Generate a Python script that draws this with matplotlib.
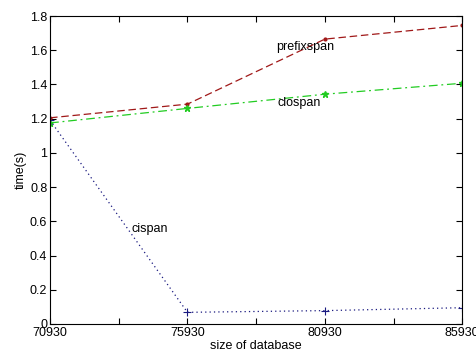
import matplotlib
matplotlib.use('Agg')
import matplotlib.pyplot as plt

# size of database
sizes = [70930, 75930, 80930, 85930]

# time(s) per algorithm
prefixspan = [1.205, 1.285, 1.665, 1.745]
clospan = [1.175, 1.26, 1.343, 1.407]
cispan = [1.19, 0.068, 0.078, 0.095]

xticks = [70930, 73430, 75930, 78430, 80930, 83430, 85930]
xticklabels = ['70930', '', '75930', '', '80930', '', '85930']
yticks = [0, 0.2, 0.4, 0.6, 0.8, 1, 1.2, 1.4, 1.6, 1.8]
yticklabels = ['0', '0.2', '0.4', '0.6', '0.8', '1', '1.2', '1.4', '1.6', '1.8']

plt.rcParams['font.family'] = ['Liberation Sans', 'DejaVu Sans']
plt.rcParams['font.size'] = 9

fig = plt.figure(figsize=(4.77, 3.56), dpi=100)
ax = fig.add_axes([0.105, 0.09, 0.864, 0.865])

ax.plot(sizes, prefixspan, color='#a01818', linestyle=(0, (6, 3)), lw=0.9,
        marker='.', markersize=4)
ax.plot(sizes, clospan, color='#22cc22', linestyle=(0, (7, 3, 1.5, 3)), lw=0.9,
        marker='*', markersize=5)
ax.plot(sizes, cispan, color='#1a1a80', linestyle=(0, (1, 2.5)), lw=0.9,
        marker='+', markersize=6, markeredgewidth=0.8)

ax.text(79150, 1.60, 'prefixspan', fontsize=9)
ax.text(79200, 1.275, 'clospan', fontsize=9)
ax.text(73900, 0.54, 'cispan', fontsize=9)

ax.set_xlim(70930, 85930)
ax.set_ylim(0, 1.8)
ax.set_xticks(xticks)
ax.set_xticklabels(xticklabels)
ax.set_yticks(yticks)
ax.set_yticklabels(yticklabels)
ax.tick_params(direction='in', top=True, right=True, length=4, width=0.8, pad=2)
for s in ax.spines.values():
    s.set_linewidth(0.8)

ax.set_xlabel('size of database', labelpad=1)
ax.set_ylabel('time(s)', labelpad=2)

fig.savefig('out.png', dpi=100)
